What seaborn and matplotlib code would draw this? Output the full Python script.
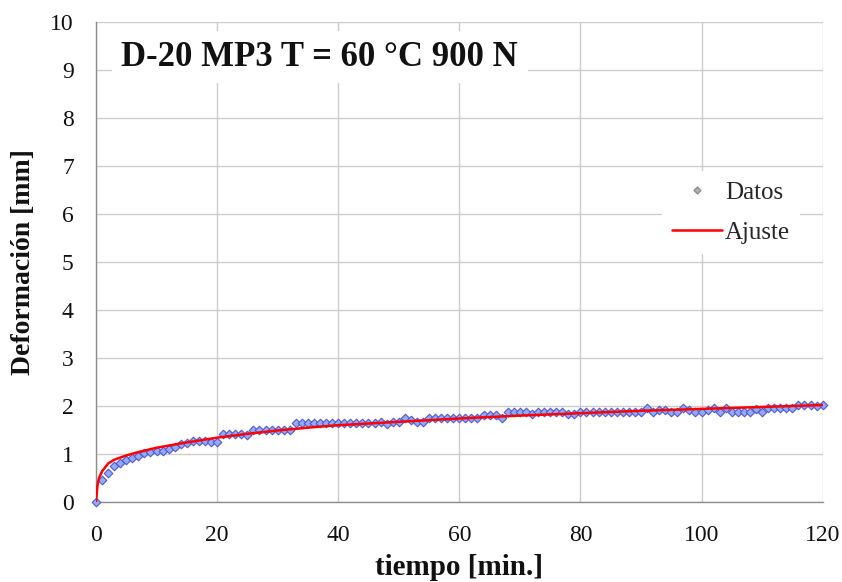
import numpy as np
import pandas as pd
import matplotlib
matplotlib.use("Agg")
import matplotlib.pyplot as plt
from matplotlib.lines import Line2D
import seaborn as sns

# ---- data ----
tiempo = list(range(0, 121))
deformacion = [
    0.00, 0.46, 0.60, 0.75, 0.82, 0.87, 0.91, 0.96, 1.03, 1.05,
    1.06, 1.07, 1.10, 1.15, 1.20, 1.22, 1.28, 1.28, 1.28, 1.26,
    1.26, 1.42, 1.42, 1.42, 1.42, 1.40, 1.51, 1.51, 1.51, 1.51,
    1.51, 1.51, 1.51, 1.64, 1.64, 1.64, 1.64, 1.64, 1.64, 1.64,
    1.64, 1.64, 1.64, 1.64, 1.64, 1.64, 1.64, 1.67, 1.62, 1.67,
    1.67, 1.76, 1.71, 1.67, 1.67, 1.76, 1.76, 1.76, 1.76, 1.76,
    1.76, 1.76, 1.76, 1.76, 1.81, 1.81, 1.81, 1.76, 1.88, 1.88,
    1.88, 1.88, 1.83, 1.88, 1.88, 1.88, 1.88, 1.88, 1.83, 1.83,
    1.88, 1.88, 1.88, 1.88, 1.88, 1.88, 1.88, 1.88, 1.88, 1.88,
    1.88, 1.95, 1.88, 1.92, 1.92, 1.88, 1.88, 1.95, 1.92, 1.87,
    1.88, 1.92, 1.95, 1.87, 1.95, 1.87, 1.87, 1.87, 1.87, 1.94,
    1.87, 1.95, 1.95, 1.95, 1.95, 1.95, 2.02, 2.02, 2.02, 2.00,
    2.02,
]
ajuste_t = [0, 0.25, 0.5, 1, 2, 3, 5, 7, 10, 14, 17, 20, 25, 30, 36, 40,
            50, 60, 70, 80, 90, 100, 110, 120]
ajuste_y = [0.00, 0.35, 0.50, 0.64, 0.80, 0.88, 0.97, 1.04, 1.13, 1.22, 1.28,
            1.34, 1.42, 1.49, 1.56, 1.60, 1.67, 1.74, 1.80, 1.85, 1.90, 1.94,
            1.98, 2.02]
x_ticks = [0, 20, 40, 60, 80, 100, 120]
y_ticks = list(range(0, 11))
titulo = "D-20 MP3 T = 60 °C 900 N"
x_label = "tiempo [min.]"
y_label = "Deformación [mm]"

df_datos = pd.DataFrame({"t": tiempo, "d": deformacion})
df_ajuste = pd.DataFrame({"t": ajuste_t, "d": ajuste_y})

sns.set_theme(style="whitegrid")
plt.rcParams["font.family"] = ["Liberation Serif", "DejaVu Serif"]

fig = plt.figure(figsize=(8.42, 5.82), dpi=100)
ax = fig.add_axes([0.114, 0.1375, 0.863, 0.8245])

sns.scatterplot(data=df_datos, x="t", y="d", ax=ax, marker="D", s=19,
                color="#90acf2", edgecolor="#5656d6", linewidth=0.8,
                zorder=3, legend=False, clip_on=False)
sns.lineplot(data=df_ajuste, x="t", y="d", ax=ax, color="#ff0000",
             linewidth=1.8, zorder=4, legend=False)

ax.set_xlim(0, 120)
ax.set_ylim(0, 10)
ax.set_xticks(x_ticks)
ax.set_yticks(y_ticks)
ax.grid(True, color="#cccccc", linewidth=1.0)
ax.set_axisbelow(True)
for side in ["top", "right"]:
    ax.spines[side].set_visible(False)
for side in ["left", "bottom"]:
    ax.spines[side].set_color("#8c8c8c")
    ax.spines[side].set_linewidth(1.0)
ax.tick_params(axis="both", which="major", labelsize=17, width=1.0,
               direction="out", colors="#8c8c8c", labelcolor="#111111")
ax.tick_params(axis="x", length=4.5, pad=12)
ax.tick_params(axis="y", length=7, pad=9)
ax.set_xlabel(x_label, fontsize=21, fontweight="bold", labelpad=6,
              color="#111111")
ax.set_ylabel(y_label, fontsize=20, fontweight="bold", labelpad=10,
              color="#111111")

ax.text(0.308, 0.927, titulo, transform=ax.transAxes, ha="center",
        va="center", fontsize=25, fontweight="bold", color="#111111",
        bbox=dict(facecolor="white", edgecolor="none", pad=7), zorder=5)

handles = [
    Line2D([], [], linestyle="none", marker="D", markersize=3.5,
           markerfacecolor="#b0b0b0", markeredgecolor="#909090"),
    Line2D([], [], color="#ff0000", linewidth=1.8),
]
leg = ax.legend(handles, ["Datos", "Ajuste"], loc="upper left",
                bbox_to_anchor=(0.762, 0.715), fontsize=18, frameon=True,
                facecolor="white", edgecolor="none", framealpha=1,
                handlelength=2.0, handletextpad=0.12, labelspacing=0.7,
                borderpad=0.4)
leg.set_zorder(6)

fig.savefig("out.png", dpi=100)
